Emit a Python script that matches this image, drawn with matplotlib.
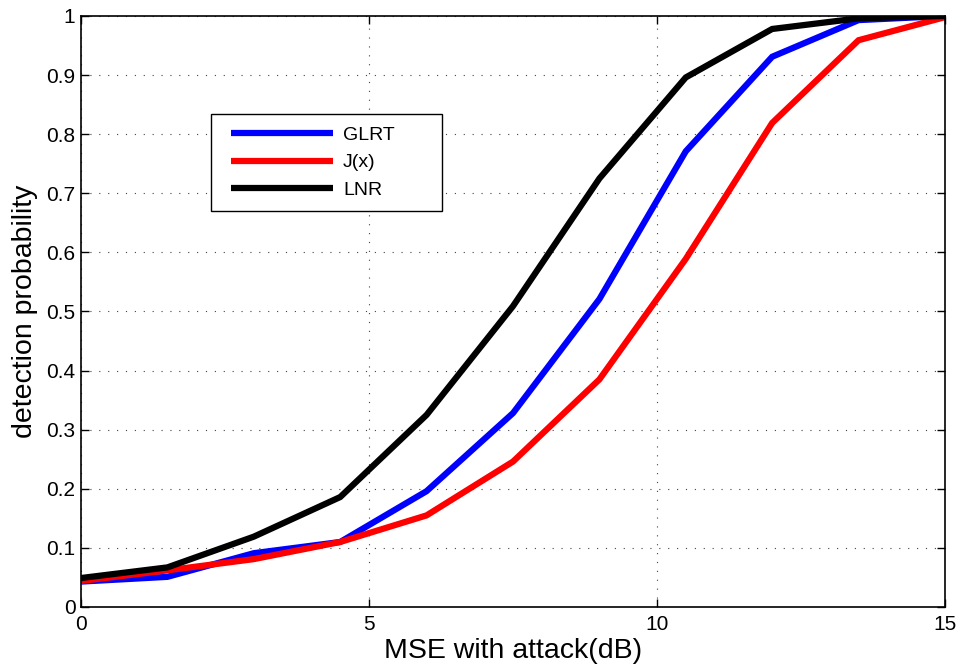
import matplotlib
matplotlib.use("Agg")
import matplotlib.pyplot as plt
from matplotlib.legend_handler import HandlerLine2D
from matplotlib.lines import Line2D

plt.rcParams['font.family'] = ['Liberation Sans', 'DejaVu Sans']

mse_db = [0, 1.5, 3, 4.5, 6, 7.5, 9, 10.5, 12, 13.5, 15]
glrt = [0.043, 0.051, 0.091, 0.110, 0.196, 0.328, 0.521, 0.771, 0.931, 0.993, 1.0]
jx = [0.044, 0.062, 0.081, 0.110, 0.155, 0.246, 0.385, 0.589, 0.819, 0.959, 0.998]
lnr = [0.049, 0.067, 0.119, 0.186, 0.325, 0.509, 0.725, 0.896, 0.978, 0.996, 1.0]

series_names = ['GLRT', 'J(x)', 'LNR']
series_colors = ['#0000ff', '#ff0000', '#000000']

x_ticks = [0, 5, 10, 15]
y_ticks = [0, 0.1, 0.2, 0.3, 0.4, 0.5, 0.6, 0.7, 0.8, 0.9, 1]
y_tick_labels = ['0', '0.1', '0.2', '0.3', '0.4', '0.5', '0.6', '0.7', '0.8', '0.9', '1']

fig = plt.figure(figsize=(9.62, 6.71), dpi=100)
ax = fig.add_axes([0.0842, 0.0954, 0.8981, 0.8808])

for vals, name, col in zip([glrt, jx, lnr], series_names, series_colors):
    ax.plot(mse_db, vals, color=col, linewidth=4.5, label=name,
            solid_joinstyle='miter', solid_capstyle='butt')

ax.set_xlim(0, 15)
ax.set_ylim(0, 1)
ax.set_xticks(x_ticks)
ax.set_xticklabels([str(t) for t in x_ticks])
ax.set_yticks(y_ticks)
ax.set_yticklabels(y_tick_labels)
ax.tick_params(direction='in', top=True, right=True, labelsize=15,
               length=6, width=1)
ax.tick_params(axis='y', pad=4)
ax.tick_params(axis='x', pad=6)
ax.grid(True, linestyle=(0, (1, 7)), color='#444444', linewidth=0.8)
for sp in ax.spines.values():
    sp.set_linewidth(1.2)

ax.set_xlabel('MSE with attack(dB)', fontsize=20.5, labelpad=3)
ax.set_ylabel('detection probability', fontsize=20.5, labelpad=6)

# legend box stretched to a fixed width, with padded line handles
leg = ax.legend(loc='upper left', bbox_to_anchor=(0.151, 0.675, 0.267, 0.1585),
                mode='expand', fontsize=14, numpoints=2,
                handler_map={Line2D: HandlerLine2D(marker_pad=0.42)},
                handlelength=6.05, handletextpad=0.12, labelspacing=0.52,
                borderpad=0.6, borderaxespad=0, fancybox=False,
                framealpha=1, edgecolor='black')
leg.get_frame().set_linewidth(1.0)

fig.savefig('out.png', dpi=100)
